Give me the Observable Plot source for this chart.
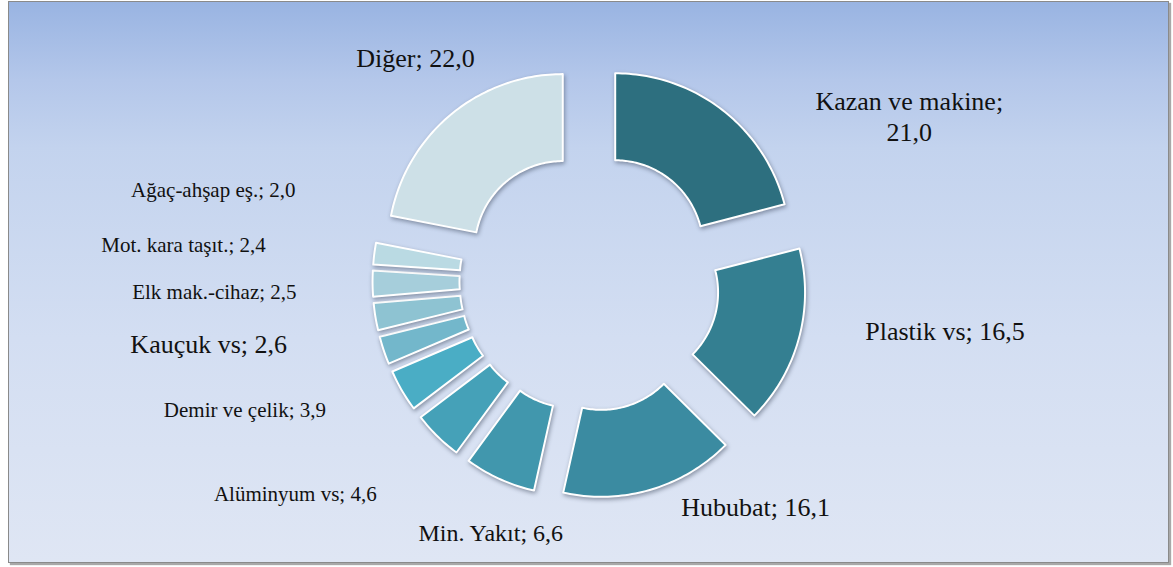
<!DOCTYPE html>
<html>
<head>
<meta charset="utf-8">
<script src="https://cdn.jsdelivr.net/npm/d3@7"></script>
<script src="https://cdn.jsdelivr.net/npm/@observablehq/plot@0.6"></script>
<style>
  html, body { margin: 0; padding: 0; background: #ffffff; }
  #wrap { position: relative; width: 1173px; height: 567px; overflow: hidden; }
  #frame {
    position: absolute; left: 8px; top: 1px; width: 1159px; height: 560px;
    border: 1.5px solid #8a8a8a;
    box-shadow: 2px 2px 1px #a8a8a8;
    background: linear-gradient(to bottom, #99b4e2 0%, #b4c7ea 14%, #c3d3ee 26%, #d3def2 60%, #dfe6f4 100%);
  }
  #chart { position: absolute; left: 0; top: 0; }
  #chart g[aria-label="line"] path { filter: drop-shadow(1.5px 2.5px 2px rgba(40,50,70,0.45)); }
</style>
</head>
<body>
<div id="wrap"><div id="frame"></div><div id="chart"></div></div>
<script>
// ---- data ----
const categories = ["Kazan ve makine", "Plastik vs", "Hububat", "Min. Yakıt", "Alüminyum vs",
  "Demir ve çelik", "Kauçuk vs", "Elk mak.-cihaz", "Mot. kara taşıt.", "Ağaç-ahşap eş.", "Diğer"];
const values = [21.0, 16.5, 16.1, 6.6, 4.6, 3.9, 2.6, 2.5, 2.4, 2.0, 22.0];

// ---- styles / layout ----
const colors = ["#2d6f7f", "#347f91", "#3b8ba1", "#4197ad", "#45a1b8", "#4aadc5",
  "#73b7cb", "#8ec3d2", "#a6cedb", "#badae3", "#cde0e7"];
const labelSizes = [26, 26, 26, 24, 21, 21, 26, 21, 21, 21, 26];
const labelOffsets = [[187, 6], [146, -8], [105, 16], [-9, 53], [-142, 57], [-157, 18],
  [-175, -7], [-161, -26], [-189, -40], [-161, -65], [-36, -57]]; // px from slice's outer mid point
const pxPerUnit = 175, cxPx = 589, cyPx = 281, W = 1173, H = 567;
const rOuter = 1, rInner = 88 / 175, explode = 42 / 175;

const pie = d3.pie().sort(null).value(d => d)(values);
const polys = [];
const labelRows = [];
pie.forEach((p, i) => {
  const mid = (p.startAngle + p.endAngle) / 2;
  const ox = explode * Math.sin(mid), oy = explode * Math.cos(mid);
  const n = Math.max(4, Math.ceil((p.endAngle - p.startAngle) / 0.02));
  const pts = [];
  for (let k = 0; k <= n; k++) {
    const a = p.startAngle + (p.endAngle - p.startAngle) * k / n;
    pts.push([ox + rOuter * Math.sin(a), oy + rOuter * Math.cos(a)]);
  }
  for (let k = n; k >= 0; k--) {
    const a = p.startAngle + (p.endAngle - p.startAngle) * k / n;
    pts.push([ox + rInner * Math.sin(a), oy + rInner * Math.cos(a)]);
  }
  pts.push(pts[0]);
  pts.forEach(([x, y]) => polys.push({ cat: categories[i], x, y, fill: colors[i] }));
  const v = values[i].toFixed(1).replace(".", ",");
  const text = i === 0 ? `${categories[i]};\n${v}` : `${categories[i]}; ${v}`;
  const rb = explode + rOuter;
  labelRows.push({
    text,
    x: rb * Math.sin(mid) + labelOffsets[i][0] / pxPerUnit,
    y: rb * Math.cos(mid) - labelOffsets[i][1] / pxPerUnit,
    size: labelSizes[i]
  });
});

const chart = Plot.plot({
  width: W, height: H, margin: 0,
  x: { domain: [-cxPx / pxPerUnit, (W - cxPx) / pxPerUnit], axis: null },
  y: { domain: [-(H - cyPx) / pxPerUnit, cyPx / pxPerUnit], axis: null },
  color: { type: "identity" },
  style: { background: "transparent", fontFamily: "'Liberation Serif', 'Times New Roman', serif", overflow: "visible" },
  marks: [
    Plot.line(polys, { x: "x", y: "y", z: "cat", fill: "fill", stroke: "#ffffff", strokeWidth: 2, strokeLinejoin: "round", curve: "linear" }),
    Plot.text(labelRows, { x: "x", y: "y", text: "text", fontSize: "size", fill: "#111", textAnchor: "middle", lineAnchor: "middle", lineHeight: 1.2 })
  ]
});
document.getElementById("chart").appendChild(chart);
</script>
</body>
</html>
